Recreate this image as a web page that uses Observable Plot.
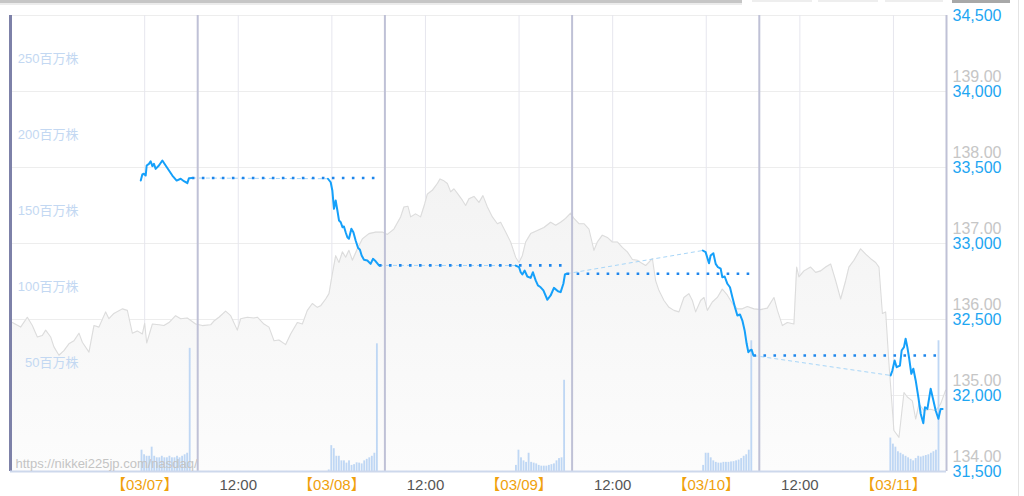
<!DOCTYPE html>
<html><head><meta charset="utf-8">
<script src="https://cdn.jsdelivr.net/npm/d3@7"></script>
<script src="https://cdn.jsdelivr.net/npm/@observablehq/plot@0.6"></script>
<style>
html,body{margin:0;padding:0;background:#fff;}
#wrap{position:relative;width:1024px;height:496px;overflow:hidden;}
.deco{position:absolute;}
</style></head><body><div id="wrap"></div>
<script>
// ---- data (time = hours from 03/07 00:00 JST; Dow points at hours from each label date 00:00) ----
const days = ["03/07","03/08","03/09","03/10","03/11"];
const dayTicks = [0, 24, 48, 72, 96];
const noonTicks = [12, 36, 60, 84];
const sessionBreaks = [-17.2, 6.8, 30.8, 54.8, 78.8, 102.8];
const dowTicks = [31500, 32000, 32500, 33000, 33500, 34000, 34500];
const fxTicks = [134, 135, 136, 137, 138, 139];
const volTicks = [50, 100, 150, 200, 250];

// NY Dow, one array per session: [hour, value]
const dow1 = [[-0.5,33415],[-0.3,33454],[-0.1,33459],[0.13,33447],[0.26,33513],[0.55,33524],[0.77,33541],[0.99,33509],[1.19,33524],[1.41,33491],[1.83,33513],[2.27,33546],[2.69,33513],[3.12,33480],[3.55,33447],[4.1,33414],[4.62,33426],[5.04,33410],[5.47,33397],[5.68,33430],[6.05,33431]];
const dow2 = [[-0.5,33426],[-0.15,33403],[0.06,33349],[0.27,33228],[0.49,33283],[0.71,33217],[0.92,33151],[1.14,33140],[1.36,33107],[1.55,33112],[1.77,33074],[1.99,33041],[2.19,33031],[2.5,33097],[2.76,33074],[3.05,33020],[3.35,32972],[3.6,32959],[3.82,32921],[4.12,32893],[4.55,32888],[4.97,32866],[5.27,32899],[5.62,32883],[6.04,32856]];
const dow3 = [[-0.44,32855],[0,32844],[0.21,32811],[0.42,32796],[0.72,32822],[1.06,32783],[1.49,32774],[1.78,32811],[2.13,32757],[2.42,32724],[2.77,32712],[3.12,32691],[3.63,32630],[4.05,32658],[4.47,32708],[4.99,32686],[5.33,32680],[5.68,32735],[5.88,32796],[6.1,32801]];
const dow4 = [[-0.45,32954],[-0.08,32943],[0.35,32870],[0.56,32921],[0.91,32936],[1.21,32866],[1.5,32844],[1.85,32834],[2.06,32778],[2.36,32783],[2.71,32735],[3.04,32712],[3.35,32647],[3.68,32581],[3.99,32526],[4.32,32533],[4.63,32493],[4.92,32428],[5.18,32340],[5.4,32285],[5.6,32296],[5.82,32301],[6.05,32263]];
const dow5 = [[-0.36,32132],[-0.14,32164],[0.15,32230],[0.41,32186],[0.83,32197],[1.05,32296],[1.35,32318],[1.56,32373],[1.78,32318],[1.99,32252],[2.29,32143],[2.55,32176],[2.85,32099],[3.19,31989],[3.49,31880],[3.83,31818],[4.04,31923],[4.35,31912],[4.77,32044],[5.12,31967],[5.41,31901],[5.76,31847],[6.05,31912],[6.3,31912]];

// Volume (million shares), 20 bars per session
const vol1 = [14,11,10,10,16,10,9,9,10,9,9,10,9,9,10,9,10,11,12,81];
const vol2 = [1,17,15,10,10,7,7,5.5,7,4,4.5,5.7,5.5,5,7,8,9,10,12,84];
const vol3 = [4,14,9,7,6,12,6,5.5,5,4,3.5,3.5,3.5,4,4.5,5,7,8.5,9,60];
const vol4 = [4,12,12,9,7,6,5.5,5.5,6,6,6,6.3,6.5,7,7.5,8.5,10,11,14,86];
const vol5 = [22,18,16,13,12,11,10,9,8,7,8.5,10,9.5,10,10.5,11,12,13,14,86];

// USD/JPY: [hour from 03/07 00:00, rate]
const fx = [[-16.96,135.96],[-15.9,135.90],[-15.04,136.03],[-14.4,135.92],[-13.76,135.77],[-13.12,135.79],[-12.69,135.86],[-12.05,135.77],[-11.63,135.64],[-10.99,135.53],[-10.35,135.59],[-9.71,135.68],[-9.06,135.72],[-8.42,135.82],[-7.99,135.70],[-7.14,135.57],[-6.5,135.92],[-5.86,135.90],[-5.0,136.10],[-4.58,136.01],[-3.94,136.08],[-2.86,136.14],[-2.22,136.12],[-1.58,135.82],[-0.94,135.85],[-0.29,135.81],[0,135.95],[0.26,135.69],[0.99,135.94],[1.83,135.93],[2.47,135.92],[3.12,135.96],[3.97,136.05],[4.62,136.01],[5.47,136.02],[6.54,135.94],[7.4,135.92],[8.46,135.93],[8.88,135.98],[9.53,136.03],[10.38,136.11],[11.03,136.05],[11.88,135.86],[12.31,136.01],[13.17,136.03],[14.01,136.02],[14.45,136.03],[15.29,135.94],[15.94,135.90],[16.58,135.72],[17.22,135.73],[18.08,135.67],[18.72,135.81],[19.58,135.96],[20.22,135.94],[20.86,136.12],[21.5,136.21],[22.14,136.16],[22.56,136.18],[23.21,136.27],[23.63,136.34],[24.06,136.60],[24.49,136.84],[24.91,136.75],[25.35,136.89],[25.77,136.82],[26.19,136.91],[26.63,136.78],[27.27,136.93],[27.91,137.06],[28.76,137.13],[29.62,137.15],[30.47,137.15],[31.12,137.12],[31.96,137.19],[32.82,137.35],[33.24,137.48],[33.76,137.49],[34.1,137.35],[34.74,137.39],[35.38,137.35],[35.9,137.52],[36.24,137.65],[36.88,137.70],[37.53,137.79],[37.86,137.85],[38.29,137.83],[38.81,137.79],[39.23,137.68],[39.65,137.72],[40.17,137.65],[40.73,137.57],[41.15,137.50],[41.58,137.59],[42.22,137.62],[42.86,137.54],[43.37,137.63],[43.94,137.48],[44.58,137.35],[45.22,137.26],[45.64,137.28],[46.28,137.15],[46.92,137.02],[47.56,136.82],[47.99,136.75],[48.42,136.84],[48.85,137.02],[49.49,137.13],[50.35,137.17],[51.19,137.21],[52.05,137.28],[52.69,137.24],[53.33,137.28],[53.97,137.33],[54.62,137.40],[55.04,137.33],[55.68,137.26],[56.32,137.26],[56.96,137.19],[57.6,136.91],[58.04,137.02],[58.68,137.11],[59.32,137.08],[59.96,137.02],[60.6,137.02],[61.24,136.95],[61.88,136.89],[62.53,136.79],[63.17,136.78],[63.59,136.75],[64.23,136.71],[65.09,136.80],[65.51,136.51],[65.94,136.38],[66.58,136.25],[67.22,136.16],[67.86,136.12],[68.5,136.10],[69.14,136.29],[69.78,136.34],[70.22,136.25],[70.64,136.10],[71.28,136.25],[71.71,136.29],[72.14,136.12],[72.78,136.23],[73.42,136.29],[74.06,136.40],[74.71,136.32],[75.35,136.21],[75.99,136.14],[76.63,136.14],[77.27,136.17],[78.12,136.14],[78.97,136.13],[79.83,136.15],[80.68,136.29],[81.12,136.12],[81.76,135.92],[82.4,135.96],[83.24,135.94],[83.59,136.69],[83.88,136.56],[84.53,136.64],[85.38,136.69],[86.03,136.62],[86.67,136.64],[87.31,136.69],[87.95,136.73],[88.59,136.51],[89.23,136.27],[89.87,136.51],[90.29,136.69],[90.94,136.78],[91.79,136.93],[92.44,136.86],[93.08,136.80],[93.72,136.75],[94.14,136.69],[94.58,136.08],[95.0,136.10],[95.42,135.42],[96.06,134.54],[96.71,134.45],[97.35,135.04],[97.78,134.98],[98.42,134.93],[98.85,134.69],[99.27,134.89],[99.91,134.80],[100.77,134.82],[101.41,134.80],[102.05,134.89],[102.69,135.07]];

// ---- derived tables ----
const X0 = sessionBreaks[0], X1 = sessionBreaks[sessionBreaks.length - 1];
const fxToY = v => 31500 + (v - 134) * 500;     // right gray axis shares the grid
const volToY = m => 31500 + m * 10;              // left volume axis shares the grid
const sessions = [dow1, dow2, dow3, dow4, dow5];
const vols = [vol1, vol2, vol3, vol4, vol5];
const dowRows = sessions.flatMap((s, i) => s.map(([h, v]) => ({t: dayTicks[i] + h, v, s: i})));
const ends = sessions.map((s, i) => ({t: dayTicks[i] + s[s.length - 1][0], v: s[s.length - 1][1]}));
const starts = sessions.map((s, i) => ({t: dayTicks[i] + s[0][0], v: s[0][1]}));
const prevClose = ends.slice(0, -1).map((e, i) => ({t1: e.t, t2: ends[i + 1].t, v: e.v}));
const gaps = ends.slice(0, -1).map((e, i) => ({t1: e.t, v1: e.v, t2: starts[i + 1].t, v2: starts[i + 1].v}));
const barW = 6.5 / 20;
const volRows = vols.flatMap((arr, i) => arr.map((m, j) => ({x1: dayTicks[i] - 0.5 + j * barW, x2: dayTicks[i] - 0.5 + (j + 1) * barW, y: volToY(m)})));
const fxRows = fx.map(([t, v]) => ({t, y: fxToY(v)}));

const defs = () => {
  const d = document.createElementNS("http://www.w3.org/2000/svg", "defs");
  d.innerHTML = '<linearGradient id="fxg" x1="0" y1="0" x2="0" y2="1"><stop offset="0" stop-color="#f3f3f3"/><stop offset="1" stop-color="#fcfcfc"/></linearGradient>';
  return d;
};

const font = "'Liberation Sans','Noto Sans CJK JP',Arial,sans-serif";
const chart = Plot.plot({
  width: 1024, height: 496,
  marginTop: 15, marginBottom: 25, marginLeft: 10, marginRight: 78,
  style: {fontFamily: font, background: "transparent", overflow: "visible"},
  x: {domain: [X0, X1]},
  y: {domain: [31500, 34500]},
  marks: [
    defs,
    Plot.gridY(dowTicks, {stroke: "#ededed", strokeOpacity: 1, strokeWidth: 1.2}),
    Plot.gridX(dayTicks.concat(noonTicks), {stroke: "#e6e6ee", strokeOpacity: 1}),
    Plot.areaY(fxRows, {x: "t", y1: 31500, y2: "y", fill: "url(#fxg)"}),
    Plot.line(fxRows, {x: "t", y: "y", stroke: "#dcdcdc", strokeWidth: 1.1}),
    Plot.rect(volRows, {x1: "x1", x2: "x2", y1: 31500, y2: "y", fill: "#bcd5f3", fillOpacity: 0.95, insetLeft: 0.35, insetRight: 0.35}),
    Plot.ruleX(sessionBreaks.slice(1), {stroke: "#bfc1d6", strokeWidth: 2}),
    Plot.ruleX([X0], {stroke: "#7d81a8", strokeWidth: 3}),
    Plot.ruleY([31500], {stroke: "#cdd8ec", strokeWidth: 2}),
    Plot.text(["https://nikkei225jp.com/nasdaq/"], {frameAnchor: "bottom-left", dx: 5, dy: -8, textAnchor: "start", lineAnchor: "middle", fill: "#c4c4c4", fontSize: 13}),
    Plot.link(gaps, {x1: "t1", y1: "v1", x2: "t2", y2: "v2", stroke: "#a8d6f8", strokeWidth: 1, strokeDasharray: "4,3"}),
    Plot.link(prevClose, {x1: "t1", y1: "v", x2: "t2", y2: "v", stroke: "#1e86ec", strokeWidth: 2.6, strokeDasharray: "2.6,7.4"}),
    Plot.line(dowRows, {x: "t", y: "v", z: "s", stroke: "#15a0fa", strokeWidth: 2}),
    Plot.axisX(dayTicks, {tickSize: 0, tickPadding: 8, fontSize: 15, fill: "#f0a10c", tickFormat: d => "【" + days[dayTicks.indexOf(d)] + "】"}),
    Plot.axisX(noonTicks, {tickSize: 0, tickPadding: 8, fontSize: 15, fill: "#555", tickFormat: () => "12:00"}),
    Plot.axisY(dowTicks, {anchor: "right", tickSize: 0, tickPadding: 6, fontSize: 16, fill: "#1ea6f2", tickFormat: d3.format(",")}),
    Plot.text(fxTicks, {y: d => fxToY(d), frameAnchor: "right", dx: 6, dy: -15, textAnchor: "start", text: d => d.toFixed(2), fill: "#c6c6c6", fontSize: 16}),
    Plot.text(volTicks, {y: d => volToY(d), frameAnchor: "left", dx: 68, dy: -33, textAnchor: "end", text: d => d + "百万株", fill: "#c3d8f2", fontSize: 13})
  ]
});
const wrap = document.getElementById("wrap");
wrap.appendChild(chart);
chart.style.position = "absolute"; chart.style.left = "0"; chart.style.top = "0";

// page chrome around the chart
const deco = (l, t, w, h, bg) => { const d = document.createElement("div"); d.className = "deco"; Object.assign(d.style, {left: l + "px", top: t + "px", width: w + "px", height: h + "px", background: bg}); wrap.appendChild(d); };
deco(0, 0, 742, 3, "#c6c6c6");
deco(0, 3, 742, 2, "#ececec");
deco(752, 0, 60, 2, "#eeeeee");
deco(818, 0, 60, 2, "#eeeeee");
deco(885, 0, 58, 2, "#eeeeee");
deco(952, 0, 58, 3, "#a8a8a8");
deco(1018, 0, 1, 496, "#e4e4e4");
</script></body></html>
